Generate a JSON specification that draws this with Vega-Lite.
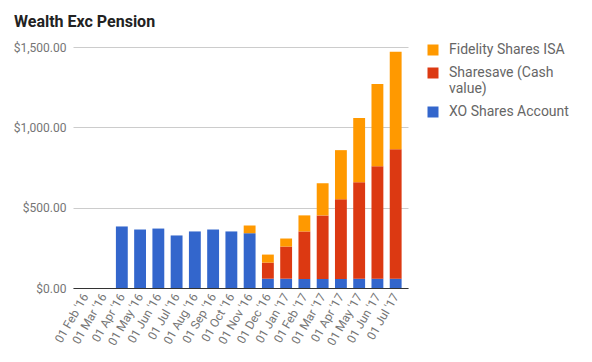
{
  "$schema": "https://vega.github.io/schema/vega-lite/v6.json",
  "autosize": "none",
  "width": 335,
  "height": 241,
  "padding": {"left": 73, "top": 47, "right": 184, "bottom": 74},
  "background": "white",
  "config": {
    "font": "Roboto",
    "view": {"stroke": null}
  },
  "title": {
    "text": "Wealth Exc Pension",
    "anchor": "start",
    "frame": "group",
    "dx": -59,
    "offset": -2,
    "baseline": "alphabetic",
    "fontSize": 16,
    "fontWeight": "bold",
    "color": "#222222",
    "font": "Roboto"
  },
  "data": {
    "values": [
      {"month": "01 Feb '16", "series": "XO Shares Account", "value": 0},
      {"month": "01 Mar '16", "series": "XO Shares Account", "value": 0},
      {"month": "01 Apr '16", "series": "XO Shares Account", "value": 383},
      {"month": "01 May '16", "series": "XO Shares Account", "value": 364},
      {"month": "01 Jun '16", "series": "XO Shares Account", "value": 370},
      {"month": "01 Jul '16", "series": "XO Shares Account", "value": 327},
      {"month": "01 Aug '16", "series": "XO Shares Account", "value": 352},
      {"month": "01 Sep '16", "series": "XO Shares Account", "value": 364},
      {"month": "01 Oct '16", "series": "XO Shares Account", "value": 352},
      {"month": "01 Nov '16", "series": "XO Shares Account", "value": 341},
      {"month": "01 Nov '16", "series": "Fidelity Shares ISA", "value": 48},
      {"month": "01 Dec '16", "series": "XO Shares Account", "value": 58},
      {"month": "01 Dec '16", "series": "Sharesave (Cash value)", "value": 100},
      {"month": "01 Dec '16", "series": "Fidelity Shares ISA", "value": 50},
      {"month": "01 Jan '17", "series": "XO Shares Account", "value": 58},
      {"month": "01 Jan '17", "series": "Sharesave (Cash value)", "value": 200},
      {"month": "01 Jan '17", "series": "Fidelity Shares ISA", "value": 50},
      {"month": "01 Feb '17", "series": "XO Shares Account", "value": 56},
      {"month": "01 Feb '17", "series": "Sharesave (Cash value)", "value": 296},
      {"month": "01 Feb '17", "series": "Fidelity Shares ISA", "value": 100},
      {"month": "01 Mar '17", "series": "XO Shares Account", "value": 56},
      {"month": "01 Mar '17", "series": "Sharesave (Cash value)", "value": 396},
      {"month": "01 Mar '17", "series": "Fidelity Shares ISA", "value": 200},
      {"month": "01 Apr '17", "series": "XO Shares Account", "value": 56},
      {"month": "01 Apr '17", "series": "Sharesave (Cash value)", "value": 496},
      {"month": "01 Apr '17", "series": "Fidelity Shares ISA", "value": 306},
      {"month": "01 May '17", "series": "XO Shares Account", "value": 58},
      {"month": "01 May '17", "series": "Sharesave (Cash value)", "value": 600},
      {"month": "01 May '17", "series": "Fidelity Shares ISA", "value": 400},
      {"month": "01 Jun '17", "series": "XO Shares Account", "value": 58},
      {"month": "01 Jun '17", "series": "Sharesave (Cash value)", "value": 700},
      {"month": "01 Jun '17", "series": "Fidelity Shares ISA", "value": 512},
      {"month": "01 Jul '17", "series": "XO Shares Account", "value": 58},
      {"month": "01 Jul '17", "series": "Sharesave (Cash value)", "value": 806},
      {"month": "01 Jul '17", "series": "Fidelity Shares ISA", "value": 606}
    ]
  },
  "mark": {"type": "bar"},
  "encoding": {
    "x": {
      "field": "month",
      "type": "ordinal",
      "sort": null,
      "scale": {
        "domain": ["01 Feb '16", "01 Mar '16", "01 Apr '16", "01 May '16", "01 Jun '16", "01 Jul '16", "01 Aug '16", "01 Sep '16", "01 Oct '16", "01 Nov '16", "01 Dec '16", "01 Jan '17", "01 Feb '17", "01 Mar '17", "01 Apr '17", "01 May '17", "01 Jun '17", "01 Jul '17"],
        "paddingInner": 0.35,
        "paddingOuter": 0.35
      },
      "axis": {
        "title": null,
        "labelAngle": -60,
        "labelAlign": "right",
        "labelBaseline": "middle",
        "labelFontSize": 12,
        "labelColor": "#757575",
        "labelPadding": 6,
        "ticks": false,
        "domainColor": "#333333",
        "domainWidth": 1,
        "grid": false,
        "zindex": 1
      }
    },
    "y": {
      "field": "value",
      "type": "quantitative",
      "aggregate": "sum",
      "stack": "zero",
      "scale": {"domain": [0, 1500]},
      "axis": {
        "title": null,
        "values": [0, 500, 1000, 1500],
        "format": "$,.2f",
        "labelFontSize": 12,
        "labelColor": "#757575",
        "labelPadding": 7,
        "ticks": false,
        "domain": false,
        "gridColor": "#cccccc",
        "gridWidth": 1
      }
    },
    "color": {
      "field": "series",
      "type": "nominal",
      "scale": {
        "domain": ["Fidelity Shares ISA", "Sharesave (Cash value)", "XO Shares Account"],
        "range": ["#ff9900", "#dc3912", "#3366cc"]
      },
      "legend": {
        "title": null,
        "orient": "none",
        "legendX": 353,
        "legendY": -4,
        "symbolType": "square",
        "symbolSize": 121,
        "symbolStrokeWidth": 0,
        "symbolOpacity": 1,
        "labelFontSize": 14,
        "labelColor": "#666666",
        "labelOffset": 9,
        "labelLimit": 200,
        "rowPadding": 9,
        "labelExpr": "datum.label == 'Sharesave (Cash value)' ? ['Sharesave (Cash', 'value)'] : datum.label"
      }
    },
    "order": {"field": "series", "sort": "descending"}
  }
}
